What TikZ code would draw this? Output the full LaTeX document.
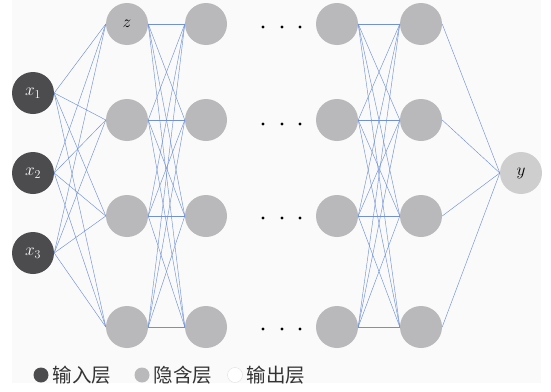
\documentclass[tikz,border=0pt]{standalone}
\usepackage{fontspec}
\newfontfamily\cjk{Noto Sans CJK SC}
\usetikzlibrary{positioning}
\definecolor{paper}{RGB}{250,250,250}
\definecolor{incol}{RGB}{76,76,78}
\definecolor{hidcol}{RGB}{185,185,187}
\definecolor{outcol}{RGB}{206,206,206}
\definecolor{wire}{RGB}{112,145,214}
\begin{document}
\begin{tikzpicture}[x=1pt, y=-1pt, font=\fontsize{17}{17}\selectfont, line
			join=round, line
			cap=round,
			neuron/.style={circle, minimum size=42pt, inner sep=0pt},
			key/.style={circle, minimum size=15pt, inner sep=0pt},
			keytext/.style={font=\cjk\fontsize{19.5}{19.5}\selectfont, inner sep=0pt, text=black!80},
			wires/.style={draw=wire, line width=0.45pt}]
			\useasboundingbox (0,0) rectangle (551,391);
			\fill[paper] (12,0) rectangle (541,383);
			% input layer
			\foreach \i/\y/\t in {1/93/x_1, 2/173/x_2, 3/253/x_3}
			\node[neuron, fill=incol, text=white] (in\i) at (33,\y) {$\t$};
			% hidden layers
			\foreach \c/\x in {a/127, b/206, c/337, d/421}
			\foreach \i/\y in {1/24, 2/120, 3/216, 4/327}
			\node[neuron, fill=hidcol] (h\c\i) at (\x,\y) {};
			\node (zlab) at (ha1) {$z$};
			% output
			\node[neuron, fill=outcol] (out) at (521,173) {$y$};
			% links
			\foreach \i in {1,2,3} \foreach \j in {1,...,4}
			\path[wires] (in\i.east) -- (ha\j.west);
			\foreach \i in {1,...,4} \foreach \j in {1,...,4}
			\path[wires] (ha\i.east) -- (hb\j.west) (hc\i.east) -- (hd\j.west);
			\foreach \i in {1,...,4}
			\path[wires] (hd\i.east) -- (out.west);
			% skipped layers
			\foreach \y in {27, 124, 218, 329}
			\foreach \x in {263, 282, 300}
			\fill (\x,\y) circle (1.6);
			% legend
			\node[key, fill=incol] (kin) at (41,375) {};
			\node[keytext, right=4pt of kin] (tin) {输入层};
			\node[key, fill=hidcol] (khid) at (142,375) {};
			\node[keytext, right=4pt of khid] (thid) {隐含层};
			\node[key, fill=white, draw=black!12] (kout) at (235,375) {};
			\node[keytext, right=4pt of kout] (tout) {输出层};
		\end{tikzpicture}
\end{document}
